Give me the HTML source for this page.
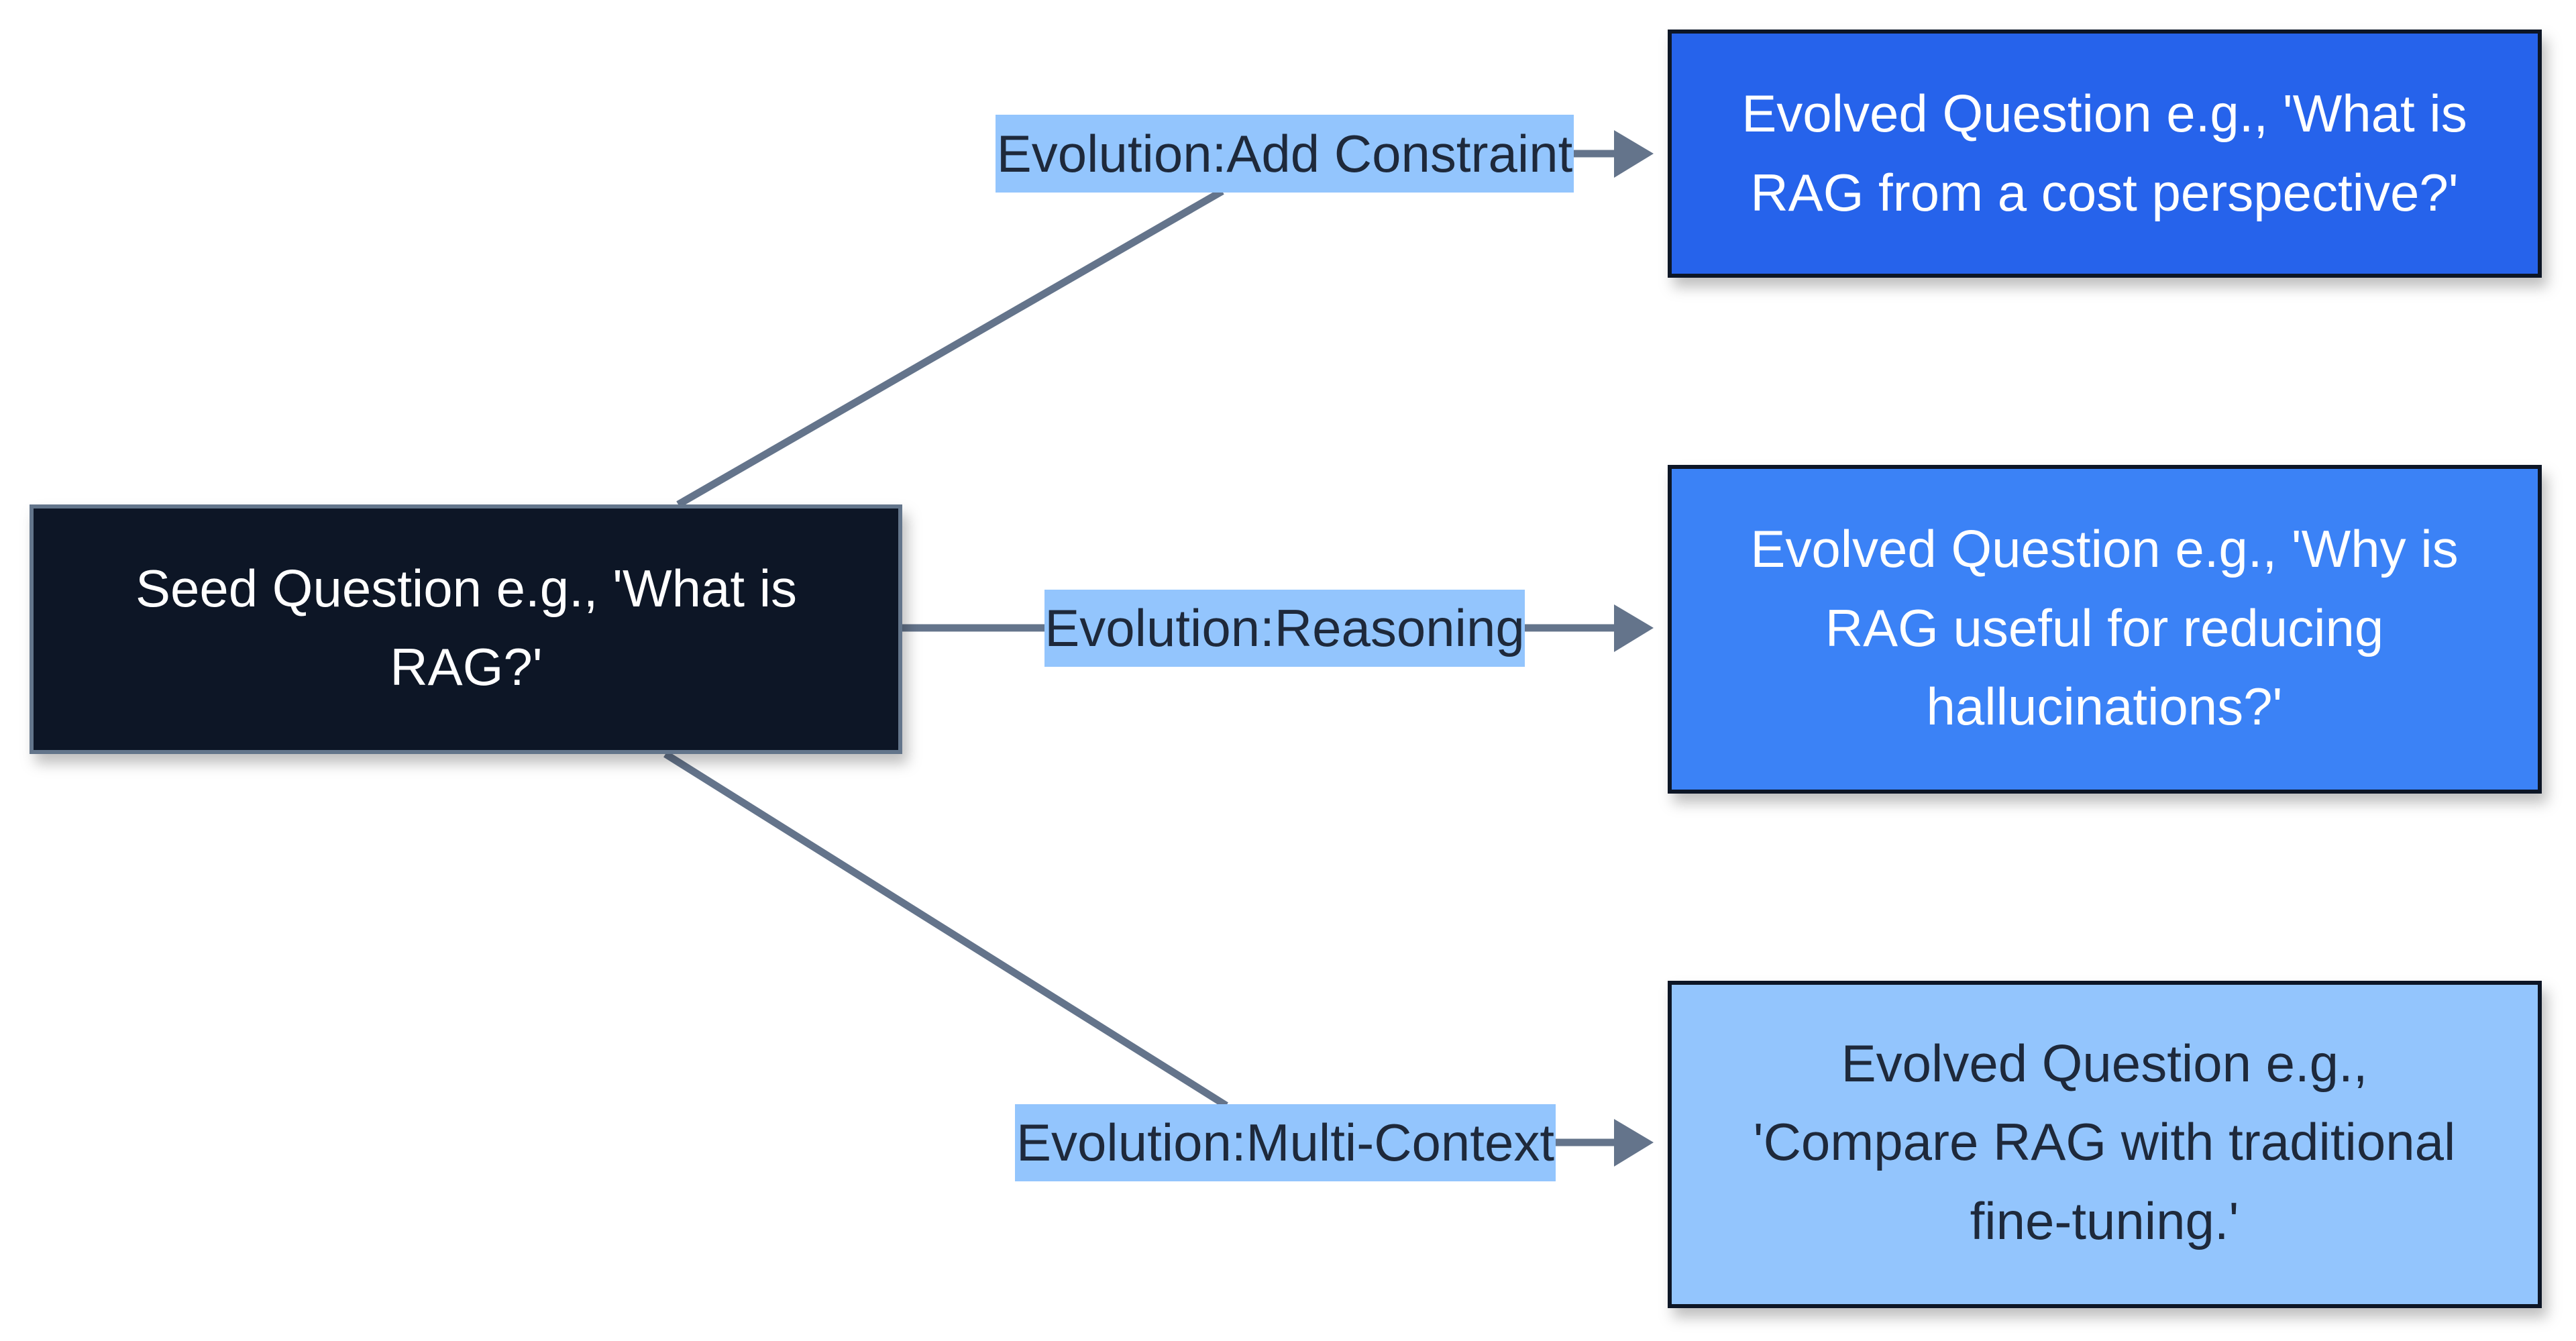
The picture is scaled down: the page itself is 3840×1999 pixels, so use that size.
<!DOCTYPE html>
<html><head><meta charset="utf-8"><style>
html,body{margin:0;padding:0;background:#fff;}
svg{display:block;}
svg text{font-family:"Liberation Sans",Arial,Helvetica,sans-serif !important;font-size:78px;text-anchor:middle;dominant-baseline:central;}
</style></head><body>
<svg width="3840" height="1999" viewBox="0 0 3840 1999" xmlns="http://www.w3.org/2000/svg" font-family="Liberation Sans, Arial, sans-serif">
<defs>
<filter id="sh" x="-10%" y="-10%" width="130%" height="140%">
<feDropShadow dx="8" dy="14" stdDeviation="10" flood-color="#000" flood-opacity="0.25"/>
</filter>
</defs>
<g stroke="#64748b" stroke-width="11" fill="none">
<line x1="1011" y1="752" x2="1822" y2="285"/>
<line x1="1345" y1="936" x2="1560" y2="936"/>
<line x1="992" y1="1124" x2="1828" y2="1648"/>
<line x1="2346" y1="229" x2="2410" y2="229"/>
<line x1="2273" y1="936" x2="2410" y2="936"/>
<line x1="2319" y1="1703" x2="2410" y2="1703"/>
</g>
<g fill="#64748b">
<polygon points="2406,194 2465,229 2406,265"/>
<polygon points="2406,901 2465,936 2406,972"/>
<polygon points="2406,1668 2465,1703 2406,1739"/>
</g>
<rect x="47" y="755" width="1295" height="366" fill="#111827" stroke="#64748b" stroke-width="6" filter="url(#sh)"/>
<text x="695" y="877" fill="#fff" font-family="Liberation Sans, Arial, sans-serif">Seed Question e.g., 'What is</text>
<text x="695" y="994" fill="#fff" font-family="Liberation Sans, Arial, sans-serif">RAG?'</text>
<rect x="2489" y="47" width="1297" height="364" fill="#2563eb" stroke="#111827" stroke-width="6" filter="url(#sh)"/>
<text x="3137" y="169" fill="#fff" font-family="Liberation Sans, Arial, sans-serif">Evolved Question e.g., 'What is</text>
<text x="3137" y="287" fill="#fff" font-family="Liberation Sans, Arial, sans-serif">RAG from a cost perspective?'</text>
<rect x="2489" y="696" width="1297" height="484" fill="#3b82f6" stroke="#111827" stroke-width="6" filter="url(#sh)"/>
<text x="3137" y="818" fill="#fff" font-family="Liberation Sans, Arial, sans-serif">Evolved Question e.g., 'Why is</text>
<text x="3137" y="936" fill="#fff" font-family="Liberation Sans, Arial, sans-serif">RAG useful for reducing</text>
<text x="3137" y="1053" fill="#fff" font-family="Liberation Sans, Arial, sans-serif">hallucinations?'</text>
<rect x="2489" y="1465" width="1297" height="482" fill="#93c5fd" stroke="#111827" stroke-width="6" filter="url(#sh)"/>
<text x="3137" y="1585" fill="#1e293b" font-family="Liberation Sans, Arial, sans-serif">Evolved Question e.g.,</text>
<text x="3137" y="1702" fill="#1e293b" font-family="Liberation Sans, Arial, sans-serif">'Compare RAG with traditional</text>
<text x="3137" y="1820" fill="#1e293b" font-family="Liberation Sans, Arial, sans-serif">fine-tuning.'</text>
<rect x="1484" y="171" width="862" height="116" fill="#93c5fd"/>
<text x="1915" y="229" fill="#1e293b" font-family="Liberation Sans, Arial, sans-serif">Evolution:Add Constraint</text>
<rect x="1557" y="879" width="716" height="115" fill="#93c5fd"/>
<text x="1915" y="936" fill="#1e293b" font-family="Liberation Sans, Arial, sans-serif">Evolution:Reasoning</text>
<rect x="1513" y="1646" width="806" height="115" fill="#93c5fd"/>
<text x="1916" y="1703" fill="#1e293b" font-family="Liberation Sans, Arial, sans-serif">Evolution:Multi-Context</text>
</svg>
</body></html>
